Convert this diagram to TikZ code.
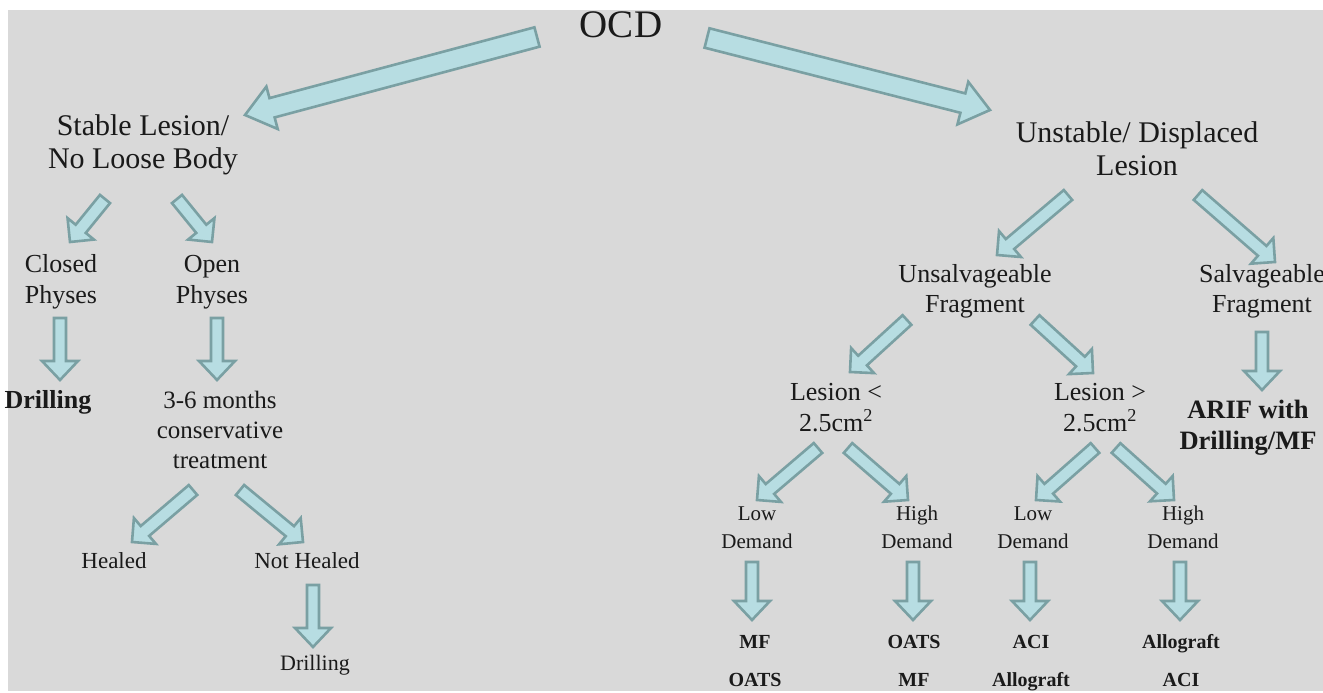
\documentclass[tikz,border=0pt]{standalone}
\usepackage{fontspec}
\setmainfont{Liberation Serif}
\usetikzlibrary{calc}
\definecolor{bg}{HTML}{D9D9D9}
\definecolor{afill}{HTML}{B7DDE2}
\definecolor{aline}{HTML}{7AA0A3}
\definecolor{ink}{HTML}{1A1A1A}
\newcommand{\fsz}[2]{\fontsize{#1pt}{#2pt}\selectfont}
\newcommand{\lns}[1]{\begin{tabular}[t]{@{}c@{}}#1\end{tabular}}
% block arrow: tail coord, tip coord, half shaft width, half head width, head length
\newcommand{\barrow}[5]{%
  \coordinate (hb) at ($(#2)!#5!(#1)$);
  \filldraw[blockarrow] ($(#1)!#3!90:(#2)$) -- ($(hb)!#3!90:(#2)$) -- ($(hb)!#4!90:(#2)$)
    -- (#2) -- ($(hb)!#4!-90:(#2)$) -- ($(hb)!#3!-90:(#2)$) -- ($(#1)!#3!-90:(#2)$) -- cycle;
}
\newcommand{\bigarrow}[2]{\barrow{#1}{#2}{10pt}{22pt}{28pt}}
\newcommand{\smarrow}[2]{\barrow{#1}{#2}{6.5pt}{17pt}{17pt}}
\newcommand{\vtarrow}[2]{\barrow{#1}{#2}{6pt}{18pt}{19pt}}
\tikzset{
  blockarrow/.style={fill=afill, draw=aline, line width=2.6pt, line join=miter},
  txt/.style={anchor=base, inner sep=0pt, text=ink},
  big/.style={txt, font=\fsz{39}{44}},
  lvone/.style={txt, font=\fsz{30}{33}},
  lvtwo/.style={txt, font=\fsz{26}{31}},
  lvsm/.style={txt, font=\fsz{21}{28}},
  lvlist/.style={txt, font=\fsz{20}{38}\bfseries}
}
\begin{document}
\begin{tikzpicture}[x=1pt,y=-1pt]
\useasboundingbox (0,0) rectangle (1323,693);
\fill[white] (0,0) rectangle (1323,693);
\fill[bg] (8,10) rectangle (1323,691);

% nodes
\node[big] (ocd) at (621,38) {OCD};
\node[lvone] (stable) at (143,135) {\lns{Stable Lesion/\\No Loose Body}};
\node[lvone] (unstable) at (1137,142) {\lns{Unstable/ Displaced\\Lesion}};
\node[lvtwo] (closed) at (61,272) {\lns{Closed\\Physes}};
\node[lvtwo] (open) at (212,272) {\lns{Open\\Physes}};
\node[lvtwo, font=\fsz{26}{31}\bfseries] (drillA) at (48,408) {Drilling};
\node[txt, font=\fsz{25}{30}] (conserv) at (220,408) {\lns{3-6 months\\conservative\\treatment}};
\node[txt, font=\fsz{23}{28}] (healed) at (114,568) {Healed};
\node[txt, font=\fsz{23}{28}] (nothealed) at (307,568) {Not Healed};
\node[txt, font=\fsz{22}{28}] (drillB) at (315,670) {Drilling};
\node[txt, font=\fsz{26}{30}] (unsalv) at (975,282) {\lns{Unsalvageable\\Fragment}};
\node[txt, font=\fsz{26}{30}] (salv) at (1262,282) {\lns{Salvageable\\Fragment}};
\node[lvtwo] (small) at (836,400) {\lns{Lesion <\\2.5cm\textsuperscript{2}}};
\node[lvtwo] (large) at (1100,400) {\lns{Lesion >\\2.5cm\textsuperscript{2}}};
\node[txt, font=\fsz{26.5}{31}\bfseries] (arif) at (1248,418) {\lns{ARIF with\\Drilling/MF}};
\node[lvsm] (lowA) at (757,520) {\lns{Low\\Demand}};
\node[lvsm] (highA) at (917,520) {\lns{High\\Demand}};
\node[lvsm] (lowB) at (1033,520) {\lns{Low\\Demand}};
\node[lvsm] (highB) at (1183,520) {\lns{High\\Demand}};
\node[lvlist] (resA) at (755,648) {\lns{MF\\OATS}};
\node[lvlist] (resB) at (914,648) {\lns{OATS\\MF}};
\node[lvlist] (resC) at (1031,648) {\lns{ACI\\Allograft}};
\node[lvlist] (resD) at (1181,648) {\lns{Allograft\\ACI}};

% arrow end points
\coordinate (a1t) at (537,37);   \coordinate (a1h) at (245,115);
\coordinate (a2t) at (707,38);   \coordinate (a2h) at (990,110);
\coordinate (b1t) at (105,199);  \coordinate (b1h) at (70,242);
\coordinate (b2t) at (177,199);  \coordinate (b2h) at (212,242);
\coordinate (c1t) at (60,318);   \coordinate (c1h) at (60,380);
\coordinate (c2t) at (217,318);  \coordinate (c2h) at (217,380);
\coordinate (d1t) at (193,490);  \coordinate (d1h) at (132,542);
\coordinate (d2t) at (240,490);  \coordinate (d2h) at (303,542);
\coordinate (e1t) at (313,585);  \coordinate (e1h) at (313,647);
\coordinate (f1t) at (1068,195); \coordinate (f1h) at (997,255);
\coordinate (f2t) at (1198,195); \coordinate (f2h) at (1275,262);
\coordinate (g1t) at (907,320);  \coordinate (g1h) at (850,372);
\coordinate (g2t) at (1035,320); \coordinate (g2h) at (1093,373);
\coordinate (g3t) at (1262,332); \coordinate (g3h) at (1262,390);
\coordinate (h1t) at (818,448);  \coordinate (h1h) at (757,500);
\coordinate (h2t) at (848,448);  \coordinate (h2h) at (908,500);
\coordinate (h3t) at (1095,448); \coordinate (h3h) at (1036,500);
\coordinate (h4t) at (1116,448); \coordinate (h4h) at (1174,500);
\coordinate (i1t) at (752,562);  \coordinate (i1h) at (752,620);
\coordinate (i2t) at (913,562);  \coordinate (i2h) at (913,620);
\coordinate (i3t) at (1030,562); \coordinate (i3h) at (1030,620);
\coordinate (i4t) at (1180,562); \coordinate (i4h) at (1180,620);

\bigarrow{a1t}{a1h}
\bigarrow{a2t}{a2h}
\smarrow{b1t}{b1h}
\smarrow{b2t}{b2h}
\vtarrow{c1t}{c1h}
\vtarrow{c2t}{c2h}
\smarrow{d1t}{d1h}
\smarrow{d2t}{d2h}
\vtarrow{e1t}{e1h}
\smarrow{f1t}{f1h}
\smarrow{f2t}{f2h}
\smarrow{g1t}{g1h}
\smarrow{g2t}{g2h}
\vtarrow{g3t}{g3h}
\smarrow{h1t}{h1h}
\smarrow{h2t}{h2h}
\smarrow{h3t}{h3h}
\smarrow{h4t}{h4h}
\vtarrow{i1t}{i1h}
\vtarrow{i2t}{i2h}
\vtarrow{i3t}{i3h}
\vtarrow{i4t}{i4h}
\end{tikzpicture}
\end{document}
